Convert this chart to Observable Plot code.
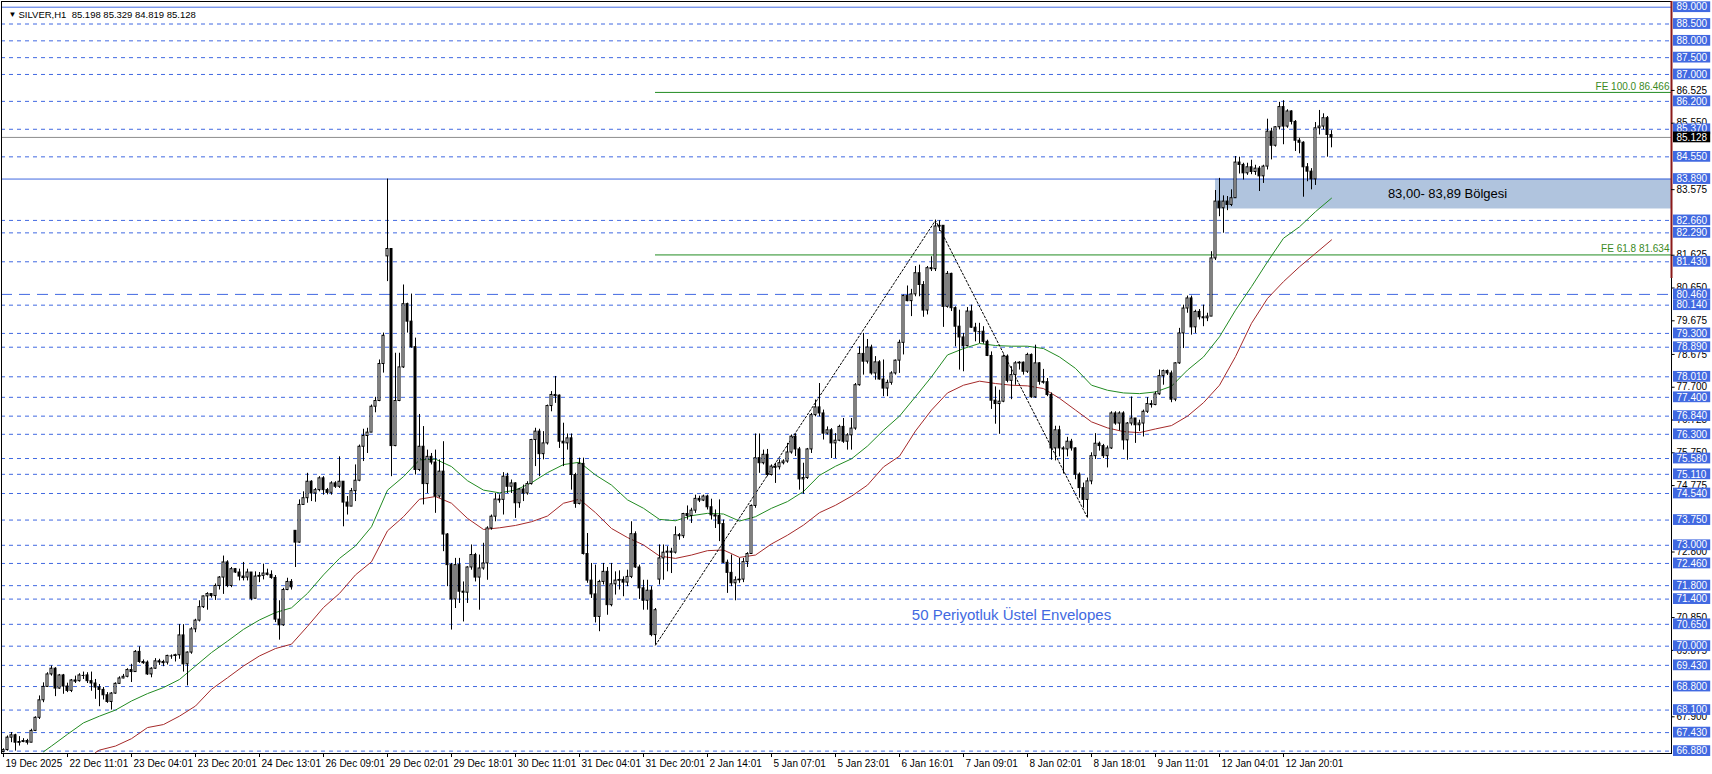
<!DOCTYPE html>
<html><head><meta charset="utf-8">
<script src="https://cdn.jsdelivr.net/npm/d3@7"></script>
<script src="https://cdn.jsdelivr.net/npm/@observablehq/plot@0.6"></script>
<style>html,body{margin:0;padding:0;background:#fff;overflow:hidden}</style>
</head><body><div id="chart"></div>
<script>
// ---- hourly candles (index = bar number) ----
const closes = [
66.91,67.28,67.35,67.13,67.15,67.18,67.13,67.48,67.87,68.39,
68.79,69.16,69.33,68.74,69.13,68.80,68.67,68.98,68.96,69.13,
69.13,68.96,68.89,68.77,68.70,68.54,68.34,68.59,68.88,69.04,
69.09,69.29,69.23,69.83,69.53,69.51,69.16,69.33,69.55,69.53,
69.51,69.71,69.71,69.73,70.32,69.46,69.81,70.50,70.76,71.16,
71.48,71.55,71.49,71.79,72.04,72.49,71.79,72.29,72.19,72.07,
72.04,72.19,71.41,72.07,72.09,72.16,72.12,72.03,70.79,70.62,
71.67,71.91,71.75,73.08,74.20,74.40,74.89,74.54,74.64,74.99,
74.64,74.56,74.84,74.74,74.89,74.27,74.15,74.61,74.92,75.93,
76.25,76.35,77.12,77.29,78.39,79.23,81.81,75.95,77.29,78.29,
80.17,79.65,78.89,75.24,75.93,74.82,75.63,75.46,74.45,75.19,
73.32,72.41,71.39,72.41,71.62,71.59,72.34,72.71,72.04,72.31,
72.46,73.50,73.85,74.36,74.35,75.04,74.74,74.84,74.25,74.66,
74.54,74.82,76.13,76.38,75.71,76.03,77.14,77.47,77.45,76.08,
76.03,76.18,75.09,74.23,75.42,72.74,71.95,71.54,70.87,71.91,
72.21,71.22,71.84,71.95,71.97,71.89,72.06,73.33,72.34,71.72,
71.35,71.65,70.33,71.07,72.61,72.78,72.81,72.78,73.30,73.27,
73.93,73.87,74.03,74.38,74.33,74.45,74.13,73.89,73.87,73.63,
72.48,72.18,71.87,71.96,71.98,72.50,72.74,74.17,75.59,75.44,
75.69,75.09,75.34,75.32,75.44,75.49,75.76,76.23,75.85,74.96,
75.00,75.85,76.87,77.10,76.92,76.32,76.42,76.03,76.11,76.52,
76.08,76.27,76.47,77.76,78.69,78.46,78.88,78.11,78.44,77.93,
77.66,77.83,78.11,78.49,79.02,80.41,80.26,80.46,81.09,80.74,
79.98,81.24,81.21,82.48,82.50,80.09,81.07,80.05,79.50,79.18,
78.92,79.95,79.47,79.35,79.35,79.05,78.63,77.30,77.20,77.27,
78.61,77.89,78.06,78.41,78.43,78.16,78.66,77.40,78.41,77.86,
77.85,77.47,75.88,76.42,75.88,75.85,76.08,75.88,75.10,74.70,
74.35,74.90,75.65,76.02,75.95,75.65,75.88,76.92,76.62,76.92,
76.12,76.62,76.77,76.57,76.62,76.97,77.20,77.17,77.49,78.03,
78.18,78.11,77.33,78.41,79.30,80.04,80.34,79.48,79.94,79.78,
79.75,79.80,81.53,83.22,83.02,83.22,83.12,83.32,84.38,84.31,
84.06,84.24,84.10,84.20,83.97,84.26,85.30,84.88,85.43,86.03,
85.45,85.90,85.59,85.03,84.97,84.24,84.11,83.88,85.40,85.45,
85.70,85.20,85.128];
const highs = [
66.95,67.33,67.43,67.38,67.31,67.25,67.23,67.53,67.90,68.52,
68.91,69.21,69.41,69.36,69.16,69.16,68.90,69.01,69.11,69.18,
69.23,69.21,69.23,69.01,68.86,68.77,68.62,68.62,68.91,69.09,
69.16,69.33,69.46,69.87,69.98,69.59,69.56,69.36,69.63,69.61,
69.58,69.73,69.74,69.76,70.64,70.64,69.83,70.55,70.80,71.35,
71.49,71.59,71.54,71.85,72.07,72.68,72.54,72.34,72.31,72.29,
72.49,72.29,72.14,72.21,72.19,72.44,72.29,72.24,72.10,71.35,
71.72,72.02,71.98,73.43,74.35,74.59,75.14,74.92,74.69,75.04,
75.04,74.69,74.89,74.89,75.63,74.89,74.45,74.69,75.39,75.98,
76.45,76.48,77.17,77.40,78.51,79.31,83.89,81.66,78.71,78.71,
80.74,80.20,80.47,79.16,76.89,76.53,75.83,75.73,75.83,75.54,
76.08,73.35,72.46,72.61,72.61,71.91,72.36,73.01,72.76,72.71,
73.06,73.55,73.90,74.54,74.50,75.16,75.14,74.94,74.86,74.69,
74.79,74.89,76.15,76.48,76.45,76.38,77.17,77.57,78.02,77.47,
76.63,76.31,76.31,75.14,75.59,75.59,73.35,72.46,72.41,71.96,
72.46,72.34,72.46,72.21,72.24,72.06,72.26,73.70,73.40,72.41,
71.96,71.96,71.77,71.12,73.01,73.01,72.96,72.91,73.55,73.35,
73.95,74.17,74.10,74.49,74.46,74.49,74.49,74.37,74.05,74.35,
73.75,72.56,72.71,72.06,72.61,72.61,72.78,74.20,76.31,76.31,
75.83,75.85,75.39,75.44,75.54,75.54,76.03,76.28,76.31,75.91,
75.44,75.88,76.92,77.32,77.81,77.02,76.52,76.47,76.32,76.57,
76.77,76.32,76.77,77.81,78.90,79.30,79.12,78.95,78.61,78.49,
78.51,77.91,78.16,78.51,79.10,80.44,80.71,80.61,81.29,81.33,
80.84,81.29,81.58,82.67,82.65,82.50,81.14,81.09,80.09,79.99,
79.30,80.07,80.14,79.60,79.60,79.50,79.10,78.75,77.71,77.61,
78.66,78.66,78.31,78.46,78.46,78.45,78.71,78.69,78.95,78.43,
78.23,77.96,77.53,76.54,76.54,75.93,76.21,76.15,75.90,75.15,
74.85,75.00,75.75,76.32,76.07,76.00,75.95,76.97,76.97,76.97,
76.97,76.65,77.41,76.77,76.72,77.02,77.39,77.30,77.56,78.21,
78.21,78.21,78.18,78.43,79.45,80.14,80.41,80.41,79.99,80.01,
80.14,79.90,81.73,83.55,83.91,83.39,83.37,83.57,84.56,84.54,
84.36,84.36,84.45,84.30,84.26,84.30,85.67,85.40,85.45,86.17,
86.22,85.95,85.92,85.63,85.10,85.00,84.35,84.20,85.57,85.93,
85.83,85.75,85.329];
const lows = [
66.83,66.88,67.13,66.88,67.03,67.13,67.06,67.16,67.46,67.82,
68.32,68.77,69.11,68.50,68.72,68.57,68.62,68.62,68.89,68.93,
69.01,68.89,68.66,68.42,68.20,68.40,68.30,68.10,68.57,68.86,
69.03,69.06,68.92,69.23,69.49,69.46,69.13,69.06,69.31,69.43,
69.39,69.44,69.61,69.53,69.61,69.23,68.82,69.76,70.40,70.72,
71.12,71.07,71.43,71.36,71.67,71.54,71.74,71.74,72.16,71.94,
71.94,71.94,71.35,71.41,71.89,71.97,72.09,71.99,70.70,70.18,
70.59,71.65,71.67,72.34,73.06,74.30,74.25,74.30,74.28,74.59,
74.49,74.50,74.49,74.69,74.69,73.55,73.90,74.15,74.30,74.89,
75.49,75.73,76.35,76.94,77.27,78.12,80.84,75.04,75.93,77.27,
78.26,79.31,78.86,75.09,75.19,74.20,74.54,75.39,73.95,74.40,
72.81,71.77,70.48,71.12,71.27,70.72,71.27,72.26,71.91,71.07,
72.26,71.96,73.45,73.70,74.25,73.90,74.54,74.54,73.80,74.10,
74.30,74.49,74.79,75.34,75.04,75.54,75.98,76.97,77.22,75.88,
75.34,75.83,74.64,74.10,74.20,72.71,71.87,71.42,70.69,70.43,
71.82,70.92,71.17,71.52,71.67,71.47,71.77,72.01,72.31,71.39,
71.07,71.07,70.28,70.03,71.82,71.96,72.21,72.16,72.74,73.15,
73.20,73.75,73.65,73.95,74.27,74.30,74.05,73.75,73.50,73.11,
72.46,71.57,71.77,71.35,71.87,71.89,72.34,72.86,74.10,75.14,
75.39,75.04,75.06,74.84,75.24,75.39,75.44,75.71,75.64,74.64,
74.52,74.96,75.73,76.82,76.82,76.13,76.28,75.58,75.58,76.08,
76.03,75.83,75.83,76.42,77.73,78.06,78.39,78.06,77.91,77.91,
77.42,77.42,77.76,78.06,78.11,78.66,80.24,79.80,80.39,80.39,
79.78,79.85,81.14,81.14,82.33,79.48,80.05,79.95,78.90,78.21,
78.16,78.90,79.45,79.05,79.00,78.98,78.61,77.04,76.60,76.30,
77.24,77.83,77.33,77.76,78.21,78.06,78.11,77.37,77.37,77.76,
77.79,77.42,75.53,75.51,75.63,75.12,75.63,75.80,74.95,74.40,
74.10,73.82,74.80,75.55,75.80,75.58,75.30,75.85,76.57,76.40,
75.83,75.53,76.55,76.03,76.38,76.22,76.92,77.08,77.15,77.46,
77.76,78.05,77.24,77.27,78.38,78.85,79.90,79.25,79.30,79.70,
79.50,79.65,79.85,81.47,82.77,82.28,82.95,83.07,83.32,84.04,
83.86,84.00,84.02,84.00,83.52,83.76,84.16,84.46,84.84,85.35,
84.91,85.40,85.50,84.71,84.64,83.35,83.81,83.57,83.70,85.20,
85.35,84.54,84.819];
// opens that differ from the previous close (session gaps)
const gapOpens = [[0,66.85],[73,73.43],[96,81.59],[164,71.98],[332,85.198]];

// ---- 50-period exponential envelopes ----
const greenIdx = [10,12,16,20,24,28,32,36,40,44,48,52,56,60,64,68,72,76,80,84,88,92,96,100,104,108,112,116,120,124,128,132,136,140,144,148,152,156,160,164,168,172,176,180,184,188,192,196,200,204,208,212,216,220,224,228,232,236,240,244,248,252,256,260,264,268,272,276,280,284,288,292,296,300,304,308,312,316,320,324,328,332];
const greenVal = [
66.86,67.03,67.38,67.72,67.92,68.10,68.37,68.59,68.77,69.01,
69.41,69.81,70.15,70.50,70.78,71.00,71.14,71.57,72.12,72.61,
72.98,73.55,74.64,75.04,75.54,75.56,75.34,74.92,74.64,74.56,
74.64,74.86,75.16,75.40,75.47,75.09,74.79,74.35,74.10,73.77,
73.73,73.88,73.95,73.93,73.72,73.85,74.10,74.30,74.60,75.08,
75.35,75.57,75.95,76.42,76.84,77.42,78.01,78.66,78.85,79.00,
78.94,78.92,78.92,78.85,78.60,78.26,77.76,77.61,77.53,77.51,
77.56,77.73,78.21,78.60,79.20,79.99,80.69,81.43,82.13,82.47,
82.92,83.32];
const redIdx = [23,24,28,32,36,40,44,48,52,56,60,64,68,72,76,80,84,88,92,96,100,104,108,112,116,120,124,128,132,136,140,144,148,152,156,160,164,168,172,176,180,184,188,192,196,200,204,208,212,216,220,224,228,232,236,240,244,248,252,256,260,264,268,272,276,280,284,288,292,296,300,304,308,312,316,320,324,328,332];
const redVal = [
66.84,66.91,67.03,67.25,67.58,67.67,67.92,68.22,68.72,69.06,
69.41,69.71,69.93,70.06,70.59,71.15,71.57,72.12,72.51,73.43,
73.85,74.37,74.45,74.25,73.80,73.47,73.52,73.59,73.70,73.87,
74.25,74.37,73.97,73.50,73.23,73.01,72.68,72.61,72.71,72.84,
72.86,72.64,72.71,73.04,73.30,73.60,73.97,74.19,74.46,74.79,
75.33,75.65,76.40,77.02,77.53,77.76,77.88,77.81,77.76,77.74,
77.66,77.37,77.02,76.67,76.49,76.38,76.35,76.46,76.56,76.84,
77.24,77.76,78.61,79.60,80.34,80.84,81.28,81.68,82.08];

// ---- horizontal levels ----
const solidLevels = [89.000, 83.890];
const longDashLevels = [80.460];
const dashedLevels = [88.500,88.000,87.500,87.000,86.200,85.370,84.550,82.660,82.290,81.430,80.140,79.300,78.890,78.010,77.400,76.840,76.300,75.580,75.110,74.540,73.750,73.000,72.460,71.800,71.400,70.650,70.000,69.430,68.800,68.100,67.430,66.880];
const scaleTicks = [86.525,85.550,83.575,81.625,80.650,79.675,78.675,77.700,76.725,75.750,74.775,72.800,70.850,69.875,67.900];
const bidPrice = 85.128;
const feLevels = [86.466, 81.634];
const feLabels = ["FE 100.0 86.466", "FE 61.8 81.634"];
const feStartIdx = 163;
const triIdx = [163, 233, 271];
const triVal = [70.03, 82.66, 73.82];
const zoneStartIdx = 303;
const zoneLow = 83.00, zoneHigh = 83.89;
const zoneText = "83,00- 83,89 Bölgesi";
const envText = "50 Periyotluk Üstel Envelopes";
const titleText = "SILVER,H1\u00a0\u00a085.198 85.329 84.819 85.128";

// ---- time axis ----
const xTickIdx = [0,16,32,48,64,80,96,112,128,144,160,176,192,208,224,240,256,272,288,304,320];
const xTickLabels = ["19 Dec 2025","22 Dec 11:01","23 Dec 04:01","23 Dec 20:01","24 Dec 13:01","26 Dec 09:01","29 Dec 02:01","29 Dec 18:01","30 Dec 11:01","31 Dec 04:01","31 Dec 20:01","2 Jan 14:01","5 Jan 07:01","5 Jan 23:01","6 Jan 16:01","7 Jan 09:01","8 Jan 02:01","8 Jan 18:01","9 Jan 11:01","12 Jan 04:01","12 Jan 20:01"];

// ---- build tables ----
const gapMap = new Map(gapOpens);
const n = Math.min(closes.length, highs.length, lows.length);
const candles = [];
for (let i = 0; i < n; i++) {
  const o = gapMap.has(i) ? gapMap.get(i) : closes[i - 1];
  const c = closes[i];
  candles.push({i, o, c, h: Math.max(highs[i], o, c), l: Math.min(lows[i], o, c)});
}
const green = greenIdx.map((x, k) => ({x, y: greenVal[k]}));
const red = redIdx.map((x, k) => ({x, y: redVal[k]}));
const tri = triIdx.map((x, k) => ({x, y: triVal[k]}));
const allLevels = [...solidLevels, ...longDashLevels, ...dashedLevels];

const X0 = -0.5, X1 = 417;
const Y0 = 66.8088, Y1 = 89.1695;
const BLUE = "#4169e1";
const boxH = 0.16;

const chart = Plot.plot({
  width: 1712, height: 774,
  marginLeft: 1, marginRight: 41, marginTop: 1, marginBottom: 21,
  style: {fontFamily: "'Liberation Sans', Arial, sans-serif", fontSize: "10px", background: "white", overflow: "visible"},
  x: {type: "linear", domain: [X0, X1], axis: null},
  y: {type: "linear", domain: [Y0, Y1], axis: null},
  marks: [
    Plot.rect([0], {x1: zoneStartIdx, x2: X1, y1: zoneLow, y2: zoneHigh, fill: "#b0c4de"}),
    Plot.ruleY(dashedLevels, {y: d => d, stroke: BLUE, strokeDasharray: "4,4"}),
    Plot.ruleY(longDashLevels, {y: d => d, stroke: BLUE, strokeDasharray: "11,7"}),
    Plot.ruleY(solidLevels, {y: d => d, stroke: BLUE}),
    Plot.ruleY([bidPrice], {y: d => d, stroke: "#8c8c8c"}),
    Plot.ruleY(feLevels, {y: d => d, x1: feStartIdx, x2: X1, stroke: "#228b22"}),
    Plot.text(feLevels, {x: X1, y: d => d, text: (d, i) => feLabels[i], textAnchor: "end", dx: -2, dy: -6, fill: "#3a8a1e", fontSize: 10}),
    Plot.line(green, {x: "x", y: "y", stroke: "#228b22", strokeWidth: 1, clip: true}),
    Plot.line(red, {x: "x", y: "y", stroke: "#a52a2a", strokeWidth: 1, clip: true}),
    Plot.line(tri, {x: "x", y: "y", stroke: "black", strokeWidth: 1, strokeDasharray: "2,2"}),
    Plot.ruleX(candles, {x: "i", y1: "l", y2: "h", stroke: "black"}),
    Plot.rect(candles, {x1: d => d.i - 0.25, x2: d => d.i + 0.25, y1: "o", y2: "c", fill: d => d.c >= d.o ? "white" : "black", stroke: "black"}),
    Plot.ruleY(candles.filter(d => Math.abs(d.c - d.o) < 0.03), {x1: d => d.i - 0.375, x2: d => d.i + 0.375, y: "c", stroke: "black"}),
    Plot.text([envText], {x: 252, y: 70.91, text: d => d, fill: BLUE, fontSize: 15}),
    Plot.text([zoneText], {x: 361, y: (zoneLow + zoneHigh) / 2, text: d => d, fill: "black", fontSize: 13}),
    Plot.frame({stroke: "black"}),
    Plot.ruleX([X1], {x: d => d, y1: 80.93, y2: Y1, stroke: "#8b1a1a", strokeWidth: 2}),
    // right price scale
    Plot.ruleY(scaleTicks, {y: d => d, x1: X1, x2: X1 + 0.9, stroke: "black"}),
    Plot.text(scaleTicks, {x: X1, y: d => d, dx: 5, text: d => d.toFixed(3), textAnchor: "start", fill: "black", fontSize: 10}),
    Plot.rect(allLevels, {x1: X1 + 0.5, x2: X1 + 9.8, y1: d => d - boxH, y2: d => d + boxH, fill: BLUE}),
    Plot.text(allLevels, {x: X1 + 0.5, y: d => d, dx: 3, text: d => d.toFixed(3), textAnchor: "start", fill: "white", fontSize: 10}),
    Plot.rect([bidPrice], {x1: X1 + 0.5, x2: X1 + 9.8, y1: d => d - boxH, y2: d => d + boxH, fill: "black"}),
    Plot.text([bidPrice], {x: X1 + 0.5, y: d => d, dx: 3, text: d => d.toFixed(3), textAnchor: "start", fill: "white", fontSize: 10}),
    // time axis
    Plot.ruleX(xTickIdx, {x: d => d, y1: Y0, y2: Y0 - 0.12, stroke: "black"}),
    Plot.text(xTickIdx, {x: d => d, y: Y0, dy: 10, dx: 2, text: (d, i) => xTickLabels[i], textAnchor: "start", fill: "black", fontSize: 10}),
    // title
    Plot.text(["\u25BC"], {frameAnchor: "top-left", dx: 7, dy: 10, text: d => d, fontSize: 8, fill: "black"}),
    Plot.text([titleText], {frameAnchor: "top-left", dx: 17, dy: 10, text: d => d, textAnchor: "start", fontSize: 9.5, fill: "black"})
  ]
});
document.getElementById("chart").appendChild(chart);
</script>
</body></html>
